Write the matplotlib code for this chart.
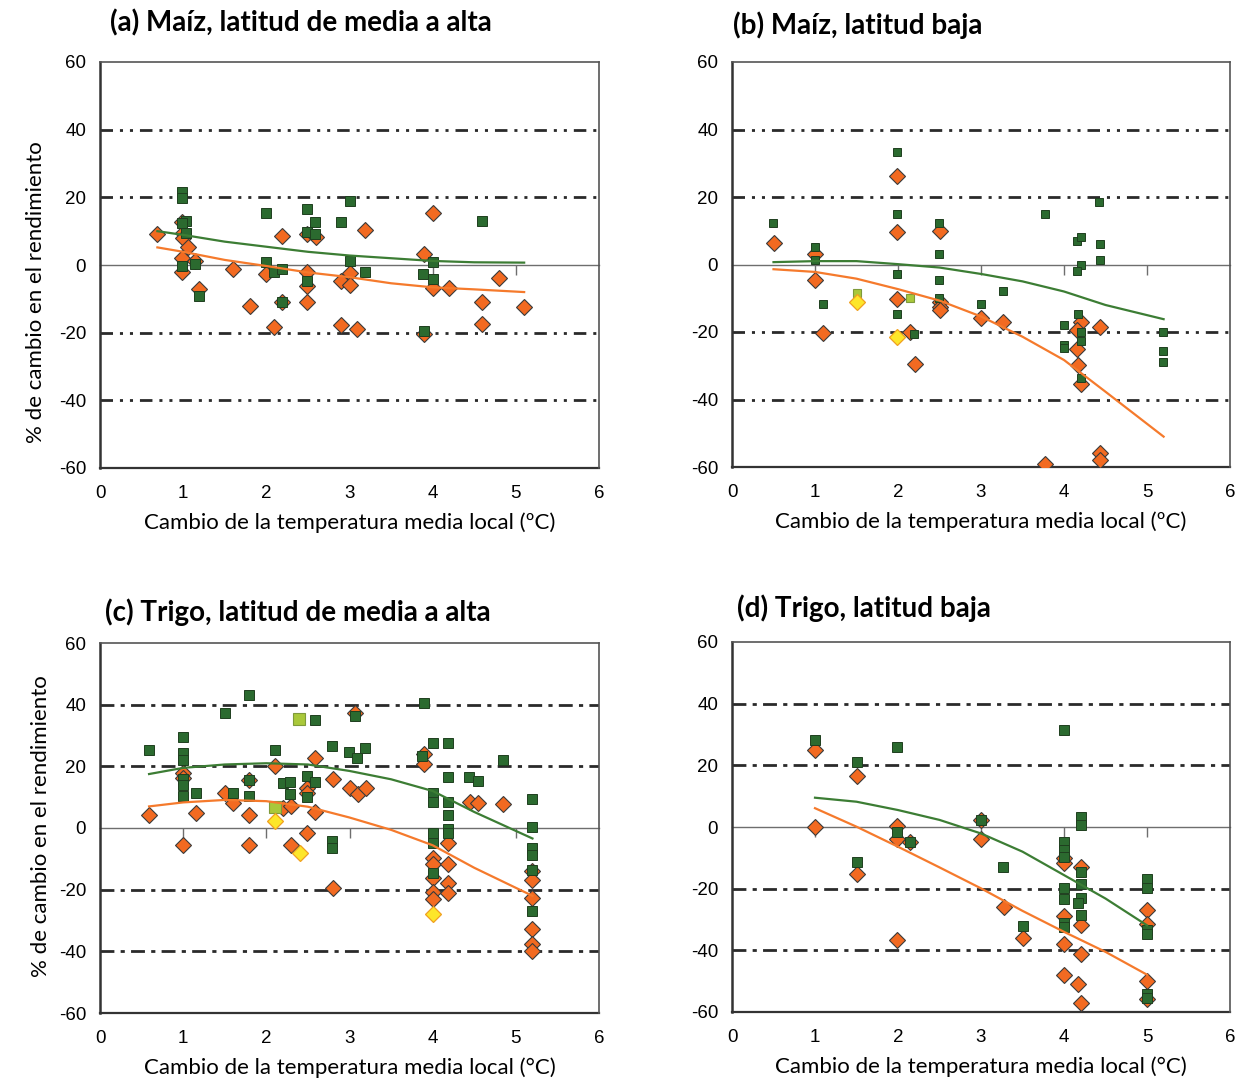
import numpy as np
import matplotlib
matplotlib.use("Agg")
import matplotlib.pyplot as plt

plt.rcParams['lines.scale_dashes'] = False

# ---------------- DATA ----------------
titles = ["(a) Maíz, latitud de media a alta", "(b) Maíz, latitud baja",
          "(c) Trigo, latitud de media a alta", "(d) Trigo, latitud baja"]
xlabels = ["Cambio de la temperatura media local (ºC)", "Cambio de la temperatura media local (ºC)",
           "Cambio de la temperatura media local (°C)", "Cambio de la temperatura media local (°C)"]
ylabel = "% de cambio en el rendimiento"
xticks = [0, 1, 2, 3, 4, 5, 6]
yticks = [-60, -40, -20, 0, 20, 40, 60]
ref_levels = [-40, -20, 20, 40]

# Panel (a)
a_sq_x = [0.99, 0.99, 1.04, 0.99, 1.04, 0.99, 1.14, 1.19, 1.99, 1.99, 2.09, 2.19, 2.19, 2.49, 2.49,
          2.59, 2.59, 2.49, 2.90, 3.00, 3.00, 3.19, 3.88, 4.00, 4.00, 3.90, 4.59]
a_sq_y = [21.7, 19.7, 13.1, 12.3, 9.4, -0.3, 0.2, -9.1, 15.3, 0.8, -2.2, -1.2, -10.8, 16.6, 9.9,
          12.8, 9.1, -4.7, 12.6, 18.9, 1.2, -2.1, -2.6, 0.8, -4.2, -19.5, 13.1]
a_di_x = [0.69, 0.99, 1.00, 1.00, 1.06, 0.99, 1.14, 0.99, 1.19, 1.60, 1.80, 1.99, 2.09, 2.19, 2.19,
          2.49, 2.60, 2.49, 2.49, 2.49, 2.90, 2.90, 3.01, 3.01, 3.09, 3.19, 4.00, 3.90, 4.00, 4.20,
          3.90, 4.59, 4.59, 4.80, 5.10]
a_di_y = [9.2, 12.8, 9.6, 7.9, 5.4, 2.0, 1.3, -2.2, -7.0, -1.2, -12.1, -2.7, -18.4, 8.6, -11.0,
          9.1, 8.4, -2.2, -6.1, -11.0, -17.8, -4.7, -2.3, -5.9, -19.0, 10.3, 15.5, 3.2, -6.7, -6.9,
          -20.4, -11.0, -17.3, -3.8, -12.4]
a_lsq_x, a_lsq_y = [], []
a_yel_x, a_yel_y = [], []
a_tr_x = [0.69, 1.0, 1.5, 2.0, 2.5, 3.0, 3.5, 4.0, 4.5, 5.1]
a_tr_green = [10.0, 8.9, 6.9, 5.4, 3.9, 2.8, 2.0, 1.2, 0.8, 0.7]
a_tr_orange = [5.2, 3.9, 1.5, -0.3, -2.2, -3.6, -5.4, -6.6, -7.2, -8.0]

# Panel (b)
b_sq_x = [0.49, 1.00, 1.00, 1.10, 1.99, 1.99, 1.99, 1.99, 2.19, 2.49, 2.49, 2.49, 2.49, 3.00, 3.27,
          3.77, 4.00, 4.00, 4.00, 4.16, 4.20, 4.20, 4.16, 4.17, 4.20, 4.20, 4.20, 4.42, 4.43, 4.43,
          5.19, 5.19, 5.19]
b_sq_y = [12.3, 5.1, 1.2, -11.8, 33.2, 15.1, -2.8, -14.7, -20.7, 12.3, 3.2, -4.7, -10.0, -11.8, -7.9,
          15.1, -17.9, -23.8, -24.8, 7.1, 8.1, 0.0, -1.9, -14.7, -19.9, -22.8, -33.7, 18.4, 6.1, 1.2,
          -20.1, -25.7, -28.9]
b_di_x = [0.50, 1.00, 1.00, 1.10, 1.99, 1.99, 1.99, 2.15, 2.20, 2.50, 2.50, 2.50, 2.50, 3.00, 3.27,
          3.77, 4.20, 4.16, 4.16, 4.17, 4.20, 4.43, 4.43, 4.43]
b_di_y = [6.5, 3.2, -4.7, -20.4, 26.2, 9.6, -10.2, -20.0, -29.4, 9.8, -11.2, -12.5, -13.5, -15.8, -17.1,
          -59.1, -17.1, -19.4, -25.1, -29.8, -35.5, -18.4, -56.0, -58.0]
b_lsq_x = [1.50, 2.14]
b_lsq_y = [-8.4, -9.8]
b_yel_x = [1.50, 1.99]
b_yel_y = [-11.2, -21.6]
b_tr_x = [0.5, 1.0, 1.5, 2.0, 2.5, 3.0, 3.5, 4.0, 4.5, 5.2]
b_tr_green = [0.7, 1.0, 1.0, 0.1, -0.9, -2.8, -5.0, -8.0, -12.0, -16.2]
b_tr_orange = [-1.4, -2.2, -4.2, -7.3, -10.7, -15.4, -21.4, -28.3, -37.7, -51.0]

# Panel (c)
c_sq_x = [0.59, 1.00, 1.00, 1.00, 1.00, 1.00, 1.00, 1.15, 1.50, 1.60, 1.79, 1.79, 1.79, 2.10, 2.20,
          2.29, 2.29, 2.49, 2.49, 2.59, 2.59, 2.79, 2.79, 2.79, 2.99, 3.07, 3.09, 3.19, 3.89, 3.87,
          4.00, 4.00, 4.00, 4.00, 4.00, 4.00, 4.19, 4.19, 4.19, 4.19, 4.19, 4.19, 4.44, 4.54, 4.84,
          5.19, 5.19, 5.19, 5.19, 5.19, 5.19]
c_sq_y = [25.4, 29.5, 24.4, 21.9, 15.8, 13.8, 10.5, 11.4, 37.4, 11.4, 43.2, 15.5, 10.5, 25.4, 14.6,
          14.8, 11.0, 16.8, 10.2, 34.9, 14.8, 26.6, -4.1, -6.6, 24.5, 36.3, 22.8, 25.8, 40.6, 23.2,
          27.5, 11.5, 8.4, -1.6, -4.8, -14.7, 27.5, 16.4, 8.4, 4.3, -0.4, -1.6, 16.4, 15.1, 22.1,
          9.3, 0.2, -6.6, -8.9, -13.6, -26.9]
c_di_x = [0.59, 1.00, 1.00, 1.00, 1.15, 1.50, 1.60, 1.79, 1.79, 1.79, 2.10, 2.20, 2.30, 2.30, 2.49,
          2.49, 2.49, 2.59, 2.59, 2.80, 2.80, 3.00, 3.10, 3.20, 3.07, 3.89, 3.89, 4.00, 4.00, 4.00,
          4.00, 4.00, 4.19, 4.19, 4.19, 4.19, 4.45, 4.55, 4.85, 5.20, 5.20, 5.20, 5.20, 5.20, 5.20]
c_di_y = [4.2, 17.9, 16.1, -5.6, 4.9, 11.4, 8.2, 15.5, 4.3, -5.6, 20.2, 6.4, 7.0, -5.6, 13.1,
          11.5, -1.7, 22.6, 5.1, 15.9, -19.4, 13.1, 11.1, 13.1, 37.4, 24.0, 20.8, -9.8, -11.8, -16.1,
          -20.6, -22.9, -4.9, -11.7, -17.8, -21.0, 8.3, 8.0, 7.7, -13.9, -16.9, -22.8, -32.8, -37.7, -40.0]
c_lsq_x = [2.10, 2.39]
c_lsq_y = [6.8, 35.4]
c_yel_x = [2.10, 2.40, 4.00]
c_yel_y = [2.3, -8.0, -27.8]
c_tr_x = [0.59, 1.0, 1.5, 2.0, 2.5, 3.0, 3.5, 4.0, 4.5, 5.2]
c_tr_green = [17.5, 19.5, 20.6, 21.0, 20.6, 18.5, 15.8, 12.0, 5.2, -3.4]
c_tr_orange = [7.0, 8.3, 9.1, 8.7, 6.9, 3.4, -0.6, -5.6, -12.9, -22.0]

# Panel (d)
d_sq_x = [1.00, 1.50, 1.50, 1.99, 1.99, 2.15, 3.00, 3.27, 3.50, 4.00, 4.00, 4.00, 4.00, 4.00, 4.00,
          4.00, 4.00, 4.20, 4.20, 4.20, 4.20, 4.20, 4.17, 4.20, 5.00, 5.00, 5.00, 5.00, 5.00, 5.00]
d_sq_y = [28.3, 21.2, -11.3, 26.1, -1.7, -4.8, 2.3, -13.0, -32.1, 31.3, -4.8, -7.3, -9.6, -19.9, -23.5,
          -31.0, -32.4, 3.4, 0.7, -14.7, -18.6, -22.9, -24.8, -28.4, -17.0, -19.9, -33.5, -34.8, -54.1, -55.4]
d_di_x = [1.00, 1.00, 1.50, 1.50, 1.99, 1.99, 1.99, 2.15, 3.00, 3.00, 3.28, 3.50, 4.00, 4.00, 4.00,
          4.00, 4.00, 4.20, 4.20, 4.20, 4.17, 4.20, 5.00, 5.00, 5.00, 5.00]
d_di_y = [25.0, 0.1, 16.4, -15.1, 0.4, -4.0, -36.7, -4.8, 2.3, -4.0, -25.9, -36.0, -10.2, -11.8, -28.9,
          -38.0, -48.1, -13.1, -31.9, -41.1, -50.8, -57.0, -27.0, -31.6, -49.9, -55.9]
d_lsq_x, d_lsq_y = [], []
d_yel_x, d_yel_y = [], []
d_tr_x = [1.0, 1.5, 2.0, 2.5, 3.0, 3.5, 4.0, 4.5, 5.0]
d_tr_green = [9.5, 8.2, 5.5, 2.3, -2.1, -8.0, -15.6, -23.2, -31.9]
d_tr_orange = [6.1, 0.1, -6.4, -13.1, -19.9, -27.2, -34.0, -40.5, -47.9]

# ---------------- STYLE / LAYOUT ----------------
GREEN = '#2b6a2f'
ORANGE = '#f26a21'
LGREEN = '#a9c83a'
YELLOW = '#fde62a'
TR_GREEN = '#3c7d34'
TR_ORANGE = '#f57a2c'
EDGE = '#3a3a3a'

fig = plt.figure(figsize=(12.6, 10.78), dpi=100)
rects = [[100/1260, 1-468/1078, 499/1260, 406/1078],
         [732/1260, 1-467/1078, 498/1260, 405/1078],
         [100/1260, 1-1013/1078, 499/1260, 370/1078],
         [732/1260, 1-1012/1078, 498/1260, 370/1078]]
title_off = [(10, 39), (1, 37), (5, 31), (5, 34)]
ylabel_pos = {0: (-0.108, 0.433), 2: (-0.098, 0.505)}
dash_pat = [(0, (9, 5, 2.2, 5, 2.2, 5)), (0, (9, 5, 2.2, 5, 2.2, 5)),
            (0, (10, 4.5, 3, 4.5)), (0, (10, 4.5, 3, 4.5))]
sq_size = [6.5, 6.0, 6.5, 6.5]
lsq_size = [6.5, 6.0, 9.0, 6.5]

panels = [
    (a_sq_x, a_sq_y, a_di_x, a_di_y, a_lsq_x, a_lsq_y, a_yel_x, a_yel_y, a_tr_x, a_tr_green, a_tr_orange),
    (b_sq_x, b_sq_y, b_di_x, b_di_y, b_lsq_x, b_lsq_y, b_yel_x, b_yel_y, b_tr_x, b_tr_green, b_tr_orange),
    (c_sq_x, c_sq_y, c_di_x, c_di_y, c_lsq_x, c_lsq_y, c_yel_x, c_yel_y, c_tr_x, c_tr_green, c_tr_orange),
    (d_sq_x, d_sq_y, d_di_x, d_di_y, d_lsq_x, d_lsq_y, d_yel_x, d_yel_y, d_tr_x, d_tr_green, d_tr_orange),
]

TICKFONT = 'Liberation Sans'
LABFONT = 'Lato'

for i, (rect, p) in enumerate(zip(rects, panels)):
    sqx, sqy, dix, diy, lsx, lsy, yx, yy, tx, tg, to = p
    ax = fig.add_axes(rect)
    ax.set_xlim(xticks[0], xticks[-1])
    ax.set_ylim(yticks[0], yticks[-1])

    for lv in ref_levels:
        ax.axhline(lv, color='#2a2a2a', lw=2.0, linestyle=dash_pat[i], zorder=1)

    ax.plot(dix, diy, linestyle='none', marker='D', ms=7.8, mfc=ORANGE, mec=EDGE, mew=0.8, zorder=3)
    ax.plot(sqx, sqy, linestyle='none', marker='s', ms=sq_size[i], mfc=GREEN, mec='#1f3f1f', mew=0.7, zorder=4)
    if lsx:
        ax.plot(lsx, lsy, linestyle='none', marker='s', ms=lsq_size[i], mfc=LGREEN, mec='#7f9a3a', mew=0.8, zorder=4)
    if yx:
        ax.plot(yx, yy, linestyle='none', marker='D', ms=7.8, mfc=YELLOW, mec='#f0a020', mew=0.9, zorder=4)

    ax.plot(tx, tg, color=TR_GREEN, lw=1.6, zorder=5)
    ax.plot(tx, to, color=TR_ORANGE, lw=1.6, zorder=5)

    # zero line with small ticks (axis crossing at 0)
    ax.spines['bottom'].set_position(('data', 0))
    ax.spines['bottom'].set_color('#6e6e6e')
    ax.spines['bottom'].set_linewidth(1.0)
    ax.spines['bottom'].set_zorder(2)
    ax.set_xticks(xticks[1:-1])
    ax.tick_params(axis='x', direction='out', length=7, width=1.0, color='#6e6e6e', labelbottom=False)

    for s in ['top', 'right']:
        ax.spines[s].set_color('#555555')
        ax.spines[s].set_linewidth(1.2)
    ax.spines['left'].set_color('#333333')
    ax.spines['left'].set_linewidth(1.8)

    ax.set_yticks(yticks)
    ax.set_yticklabels([str(v) for v in yticks], fontfamily=TICKFONT, fontsize=13.5)
    ax.tick_params(axis='y', length=0, pad=10)

    sec = ax.secondary_xaxis('bottom')
    sec.set_xticks(xticks)
    sec.set_xticklabels([str(v) for v in xticks], fontfamily=TICKFONT, fontsize=13.5)
    sec.tick_params(axis='x', length=0, pad=12)
    sec.spines['bottom'].set_color('#333333')
    sec.spines['bottom'].set_linewidth(1.6)
    sec.set_xlabel(xlabels[i], fontfamily=LABFONT, fontsize=16, labelpad=8)

    if i in ylabel_pos:
        ax.set_ylabel(ylabel, fontfamily=LABFONT, fontsize=16)
        ax.yaxis.set_label_coords(*ylabel_pos[i])

    ox, oy = title_off[i]
    ax.annotate(titles[i], xy=(0, 1), xycoords='axes fraction', xytext=(ox, oy),
                textcoords='offset pixels', ha='left', va='center',
                fontfamily=LABFONT, fontweight='bold', fontsize=20)

fig.savefig('out.png', dpi=100)
